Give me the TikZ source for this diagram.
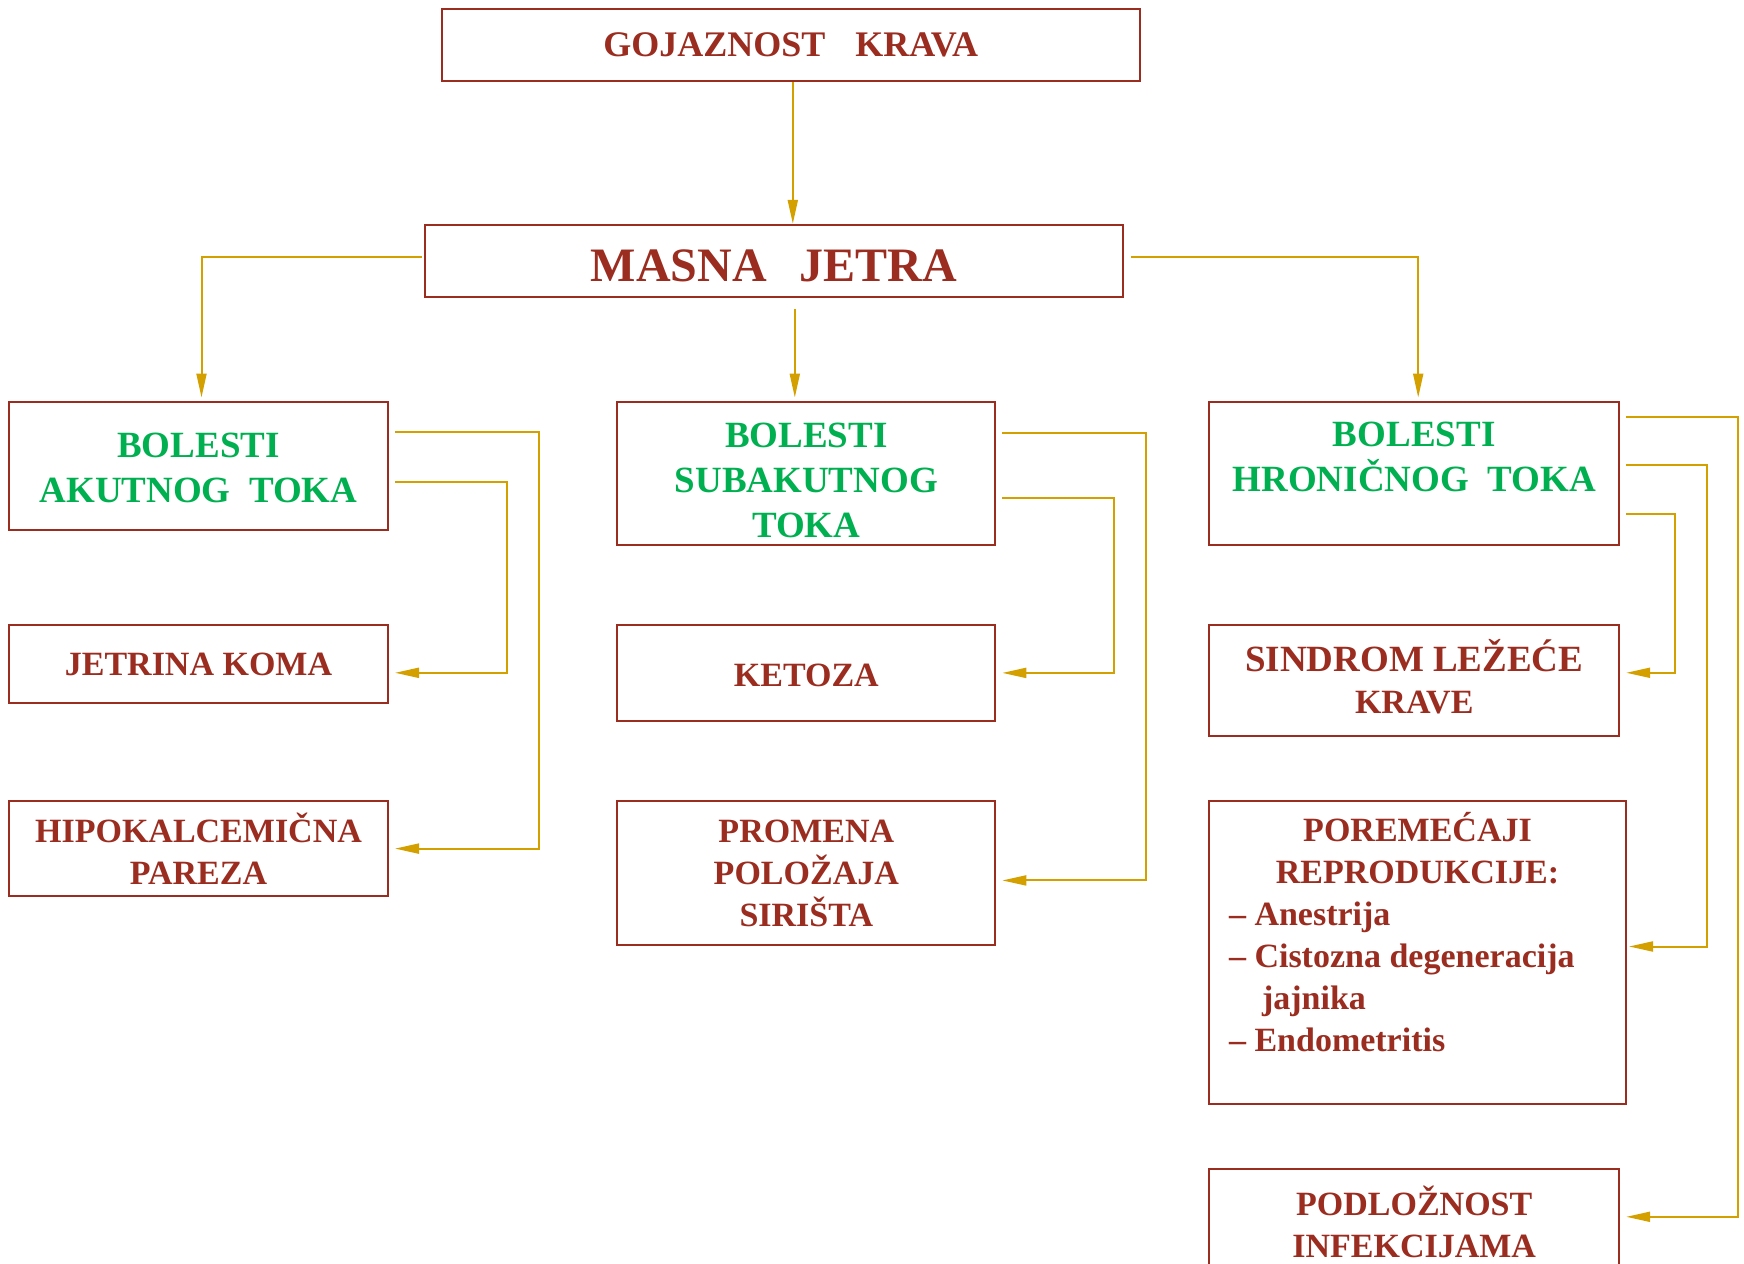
\documentclass[tikz,border=0pt]{standalone}
\usepackage{fontspec}
\setmainfont{Liberation Serif}
\usepackage{tikz}
\usetikzlibrary{calc}
\usetikzlibrary{arrows.meta}
\definecolor{crvena}{RGB}{155,45,32}
\definecolor{zelena}{RGB}{0,176,80}
\definecolor{zlatna}{RGB}{212,160,0}
\begin{document}
\begin{tikzpicture}[x=1pt,y=-1pt,
            okvir/.style={draw=crvena,line width=2pt,inner sep=0pt,align=center,text=crvena,font=\bfseries\fontsize{34}{42}\selectfont},
            naslov/.style={okvir,text=zelena,font=\bfseries\fontsize{37}{45}\selectfont},
            veza/.style={draw=zlatna,line width=2pt,-{Triangle[length=24pt,width=10pt]}},
            bocna/.style={veza,shorten <=6pt,shorten >=6pt}]
            \clip (0,0) rectangle (1744,1263);
            \node[okvir,minimum width=698pt,minimum height=72pt,font=\bfseries\fontsize{36}{40}\selectfont] (goj) at (790.8,45) {GOJAZNOST\hspace{30pt}KRAVA};
            \node[okvir,minimum width=698pt,minimum height=72pt,font=\bfseries\fontsize{48}{52}\selectfont] (masna) at (774.1,260.8) {\rule{0pt}{41pt}MASNA\hspace{33pt}JETRA};
            \node[naslov,minimum width=379pt,minimum height=128pt] (akut) at (198.5,465.5) {\rule{0pt}{30pt}BOLESTI\\AKUTNOG~~TOKA};
            \node[naslov,minimum width=378pt,minimum height=143.5pt] (subak) at (806.3,473.3) {\rule{0pt}{39pt}BOLESTI\\SUBAKUTNOG\\TOKA};
            \node[naslov,minimum width=410pt,minimum height=143.5pt] (hron) at (1414.2,473.3) {BOLESTI\\HRONIČNOG~~TOKA\\[-12pt]\mbox{}};
            \node[okvir,minimum width=379pt,minimum height=78pt] (jetr) at (198.5,664) {JETRINA KOMA};
            \node[okvir,minimum width=379pt,minimum height=95.6pt] (hipo) at (198.5,848.6) {HIPOKALCEMIČNA\\PAREZA};
            \node[okvir,minimum width=378pt,minimum height=95.6pt] (keto) at (806.3,672.9) {\rule{0pt}{28pt}KETOZA};
            \node[okvir,minimum width=378pt,minimum height=144.6pt] (prom) at (806.3,873.1) {PROMENA\\POLOŽAJA\\SIRIŠTA};
            \node[okvir,minimum width=410pt,minimum height=111.2pt] (sind) at (1414.2,680.7) {{\fontsize{37}{42}\selectfont SINDROM LEŽEĆE}\\KRAVE\\[-34pt]\mbox{}};
            \node[okvir,align=none,text width=377pt,inner xsep=20pt,minimum height=303.6pt] (pore) at (1417.5,952.6)
                {\centering POREMEĆAJI\\REPRODUKCIJE:\par\raggedright
                – Anestrija\\– Cistozna degeneracija\\\hspace*{33pt}jajnika\\– Endometritis\\\mbox{}\par};
            \node[okvir,minimum width=410pt,minimum height=105.8pt] (podl) at (1414.2,1221.8) {PODLOŽNOST\\INFEKCIJAMA};
            \draw[veza] ([xshift=2pt]goj.south) -- ([xshift=2pt]goj.south |- masna.north);
            \draw[veza,shorten <=2pt,shorten >=3pt] ([yshift=4pt]masna.west) -| ([xshift=3pt]akut.north);
            \draw[veza,shorten >=3pt] ($(masna.south -| goj.south)+(4,11)$) -- ($(goj.south |- subak.north)+(4,0)$);
            \draw[veza,shorten <=7pt,shorten >=3pt] ([yshift=4pt]masna.east) -| ([xshift=4pt]hron.north);
            \draw[bocna] ($(akut.north east)!0.24!(akut.south east)$) -- ++(150,0) |- (hipo.east);
            \draw[bocna] ($(akut.north east)!0.63!(akut.south east)$) -- ++(118,0) |- ($(jetr.north east)!0.61!(jetr.south east)$);
            \draw[bocna] ($(subak.north east)!0.22!(subak.south east)$) -- ++(150,0) |- ($(prom.north east)!0.55!(prom.south east)$);
            \draw[bocna] ($(subak.north east)!0.67!(subak.south east)$) -- ++(118,0) |- (keto.east);
            \draw[bocna] ($(hron.north east)!0.11!(hron.south east)$) -- ++(118,0) |- ([yshift=5pt]podl.east);
            \draw[bocna,shorten >=2pt] ($(hron.north east)!0.44!(hron.south east)$) -- ++(87,0) |- ($(pore.north east)!0.48!(pore.south east)$);
            \draw[bocna] ($(hron.north east)!0.78!(hron.south east)$) -- ++(55,0) |- ($(sind.north east)!0.43!(sind.south east)$);
\end{tikzpicture}
\end{document}
